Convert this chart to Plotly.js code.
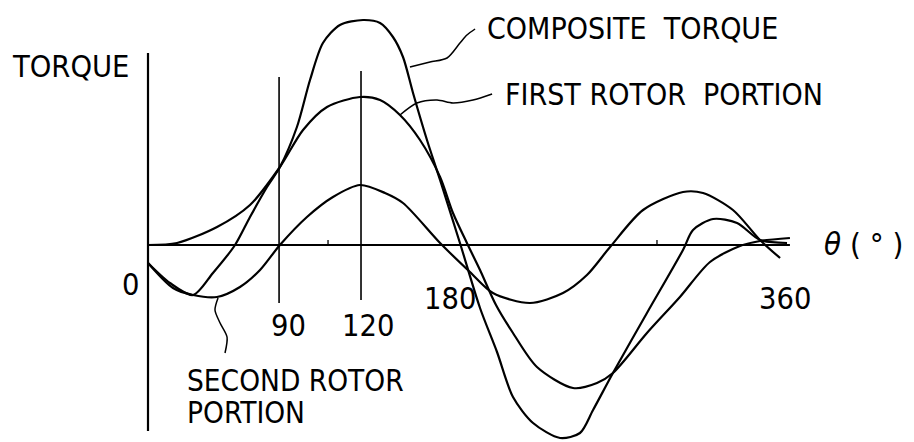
<!DOCTYPE html>
<html>
<head>
<meta charset="utf-8">
<script src="https://cdn.plot.ly/plotly-3.0.1.min.js"></script>
<style>html,body{margin:0;padding:0;background:#fff;}#chart{width:914px;height:442px;}</style>
</head>
<body>
<div id="chart"></div>
<script>
// rotation angle (deg, as drawn) and torque (arbitrary units)
const firstX = [0,17.1,40.6,60.0,77.6,91.2,105.3,124.7,136.5,148.2,160.0,171.8,179.4,187.6,195.3,204.7,214.7,228.8,250.0,264.1,273.5,293.5,312.9,330.6,348.2,360.0,377.6];
const firstY = [0,0.2,1.8,4.0,7.8,11.5,13.8,14.8,14.5,13.0,10.5,6.8,3.2,0.2,-2.5,-6.0,-8.8,-12.2,-14.3,-13.8,-12.8,-8.8,-5.2,-1.7,-0.1,0.4,0.7];

const secondX = [0,14.7,26.5,40.6,54.1,65.9,77.6,93.5,108.8,124.7,139.4,150.0,171.8,189.4,202.9,224.7,244.1,258.2,271.8,291.2,314.7,326.5,344.1,360.0,371.8];
const secondY = [-1.8,-4.3,-5.0,-5.2,-4.2,-2.5,0,2.8,4.8,6.0,5.2,4.2,0.2,-2.7,-4.8,-5.8,-4.8,-3.0,-0.2,3.5,5.3,5.2,3.5,0.5,-1.3];

const compX = [0,12.9,26.5,38.2,51.2,60.0,70.0,77.6,87.6,95.3,102.9,112.9,126.5,136.5,144.1,150.0,155.9,164.1,171.8,183.5,195.3,205.3,214.7,226.5,242.4,254.1,261.8,273.5,293.5,314.7,320.6,332.4,346.5,360.0,375.9];
const compY = [-1.8,-3.8,-5.0,-2.8,0,2.8,5.8,7.8,11.8,16.5,20.2,22.0,22.5,22.2,20.8,18.8,15.2,10.5,6.5,0.2,-6.3,-10.7,-15.2,-17.8,-19.3,-18.8,-16.5,-12.8,-6.8,-0.5,1.5,2.6,2.2,0.5,0.2];

// label leader lines
const leadCompX = [154.1,165.9,175.9,183.5,187.6,192.4];
const leadCompY = [17.8,18.3,18.7,20.2,21.0,21.6];
const leadFirstX = [148.2,158.2,170.0,179.4,191.2,202.4];
const leadFirstY = [13.0,14.2,14.5,14.2,14.5,15.1];
const leadSecondX = [41.2,39.4,42.4,46.5,45.3];
const leadSecondY = [-5.3,-6.5,-7.8,-9.2,-10.8];

// angle markers (position as drawn) and their labels
const guideX = [77.1, 125.3];
const guideTop = [16.8, 17.4];
const guideBottom = [-5.8, -5.5];
const minorTickX = [105.9, 299.4];
const tickLabels = ["0", "90", "120", "180", "360"];
const tickLabelPx = [[130,284],[288,325],[368,325],[450,298],[785,298]];

const seriesNames = ["COMPOSITE TORQUE", "FIRST ROTOR PORTION", "SECOND ROTOR", "PORTION"];

const W = 914, H = 442, ML = 131, MR = 86, MT = 5, MB = 0;
const px = x => (x - ML) / (W - ML - MR);
const py = y => (H - MB - y) / (H - MT - MB);

const FONT = "'Liberation Sans Narrow', 'DejaVu Sans Condensed', 'Arial Narrow', 'Liberation Sans', sans-serif";
const curve = (x, y, w) => ({x, y, type: 'scatter', mode: 'lines', line: {color: '#000', width: w, shape: 'spline', smoothing: 0.8}, hoverinfo: 'skip'});

const traces = [
  curve(firstX, firstY, 2.2),
  curve(secondX, secondY, 2.2),
  curve(compX, compY, 2.2),
  curve(leadCompX, leadCompY, 1.5),
  curve(leadFirstX, leadFirstY, 1.5),
  curve(leadSecondX, leadSecondY, 1.5)
];

const shapes = [
  {type: 'line', xref: 'x', yref: 'y', x0: 0, x1: 0, y0: -18.6, y1: 19.2, line: {color: '#000', width: 2.2}},
  {type: 'line', xref: 'x', yref: 'y', x0: 0, x1: 377.6, y0: 0, y1: 0, line: {color: '#000', width: 2}}
];
guideX.forEach((g, i) => shapes.push({type: 'line', xref: 'x', yref: 'y', x0: g, x1: g, y0: guideBottom[i], y1: guideTop[i], line: {color: '#000', width: 1.6}}));
minorTickX.forEach(g => shapes.push({type: 'line', xref: 'x', yref: 'y', x0: g, x1: g, y0: 0, y1: 0.5, line: {color: '#000', width: 1.3}}));

const ann = (text, x, y, xanchor, size) => ({text, xref: 'paper', yref: 'paper', x: px(x), y: py(y), xanchor, yanchor: 'middle', showarrow: false, font: {family: FONT, size, color: '#000'}});

const annotations = [
  ann("TORQUE", 10, 66, 'left', 30.5),
  ann(seriesNames[0].replace(' ', '&nbsp;&nbsp;'), 485, 28, 'left', 30),
  ann(seriesNames[1].replace('ROTOR ', 'ROTOR&nbsp;&nbsp;'), 503, 94, 'left', 30),
  ann(seriesNames[2], 185, 381, 'left', 29.5),
  ann(seriesNames[3], 185, 413, 'left', 29.5),
  ann("<i>θ</i> ( ° )", 822, 244, 'left', 31)
];
tickLabels.forEach((t, i) => annotations.push(ann(t, tickLabelPx[i][0], tickLabelPx[i][1], 'center', 30.5)));

const layout = {
  width: W, height: H,
  margin: {l: ML, r: MR, t: MT, b: MB, pad: 0},
  paper_bgcolor: '#fff', plot_bgcolor: '#fff',
  showlegend: false,
  xaxis: {range: [-10, 400], visible: false, fixedrange: true},
  yaxis: {range: [-19.7, 24], visible: false, fixedrange: true},
  shapes, annotations
};

Plotly.newPlot('chart', traces, layout, {staticPlot: true, displayModeBar: false});
</script>
</body>
</html>
